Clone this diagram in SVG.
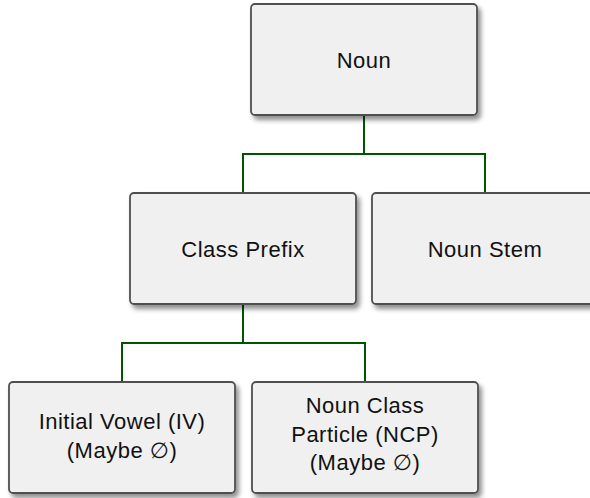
<svg xmlns="http://www.w3.org/2000/svg" width="590" height="498" viewBox="0 0 590 498">
<defs>
<filter id="sh" x="-10%" y="-10%" width="130%" height="130%">
<feGaussianBlur in="SourceAlpha" stdDeviation="2.5"/>
<feOffset dx="3" dy="4" result="b"/>
<feComponentTransfer><feFuncA type="linear" slope="0.45"/></feComponentTransfer>
<feMerge><feMergeNode/><feMergeNode in="SourceGraphic"/></feMerge>
</filter>
</defs>
<style>
.box{fill:#f0f0f0;stroke:#505050;stroke-width:1.8;filter:url(#sh)}
.t{font-family:"Liberation Sans","DejaVu Sans",sans-serif;font-size:22px;letter-spacing:0.5px;fill:#111;text-anchor:middle}
.c{fill:none;stroke:#005500;stroke-width:2}
</style>
<g id="connectors">
<path class="c" d="M364 115 V154 M243 193 V154 H485 V193"/>
<path class="c" d="M243 304 V343 M122 382 V343 H365 V382"/>
</g>
<g id="noun">
<rect class="box" x="251" y="4" width="226" height="111" rx="4"/>
<text class="t" x="364" y="68">Noun</text>
</g>
<g id="class-prefix">
<rect class="box" x="130" y="193" width="226" height="111" rx="4"/>
<text class="t" x="243" y="257">Class Prefix</text>
</g>
<g id="noun-stem">
<rect class="box" x="372" y="193" width="226" height="111" rx="4"/>
<text class="t" x="485" y="257">Noun Stem</text>
</g>
<g id="initial-vowel">
<rect class="box" x="9" y="382" width="226" height="111" rx="4"/>
<text class="t" x="122" y="429">Initial Vowel (IV)</text>
<text class="t" x="122" y="458">(Maybe ∅)</text>
</g>
<g id="ncp">
<rect class="box" x="252" y="382" width="226" height="111" rx="4"/>
<text class="t" x="365" y="413">Noun Class</text>
<text class="t" x="365" y="442">Particle (NCP)</text>
<text class="t" x="365" y="470">(Maybe ∅)</text>
</g>
</svg>
